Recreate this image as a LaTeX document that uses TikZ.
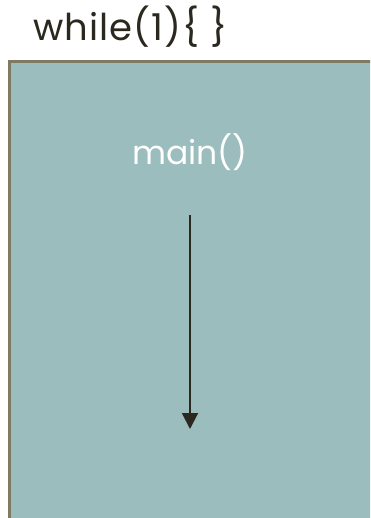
\documentclass[tikz,border=0pt]{standalone}
\usepackage{fontspec}
\setmainfont{Poppins}
\usetikzlibrary{arrows.meta,positioning}
\definecolor{boxfill}{HTML}{9BBDBD}
\definecolor{boxline}{HTML}{7F7B62}
\definecolor{ink}{HTML}{2B2820}
\tikzset{
  title/.style={anchor=base west,inner sep=0pt,text=ink,font=\fontsize{37}{37}\selectfont\addfontfeatures{LetterSpace=3}},
  label/.style={anchor=base,inner sep=0pt,text=white,font=\fontsize{33}{33}\selectfont},
  flow/.style={draw=ink,line width=2pt,-{Triangle[length=16pt,width=16pt]}}
}
\begin{document}
\begin{tikzpicture}[x=1pt,y=-1pt]
\useasboundingbox (0,0) rectangle (370,518);
\clip (0,0) rectangle (370,518);

\draw [fill=boxfill,draw=boxline,line width=3pt] (9.5,61.5) rectangle (400,560); % loop body
\node [title] (loop) at (33,41) {while(1)\{ \}};
%
\node [label] (entry) at (190,165) {main()};
\coordinate (top) at (190,215);
\coordinate (bot) at (190,429);
\draw [flow] (top) -- (bot);

\end{tikzpicture}
\end{document}
